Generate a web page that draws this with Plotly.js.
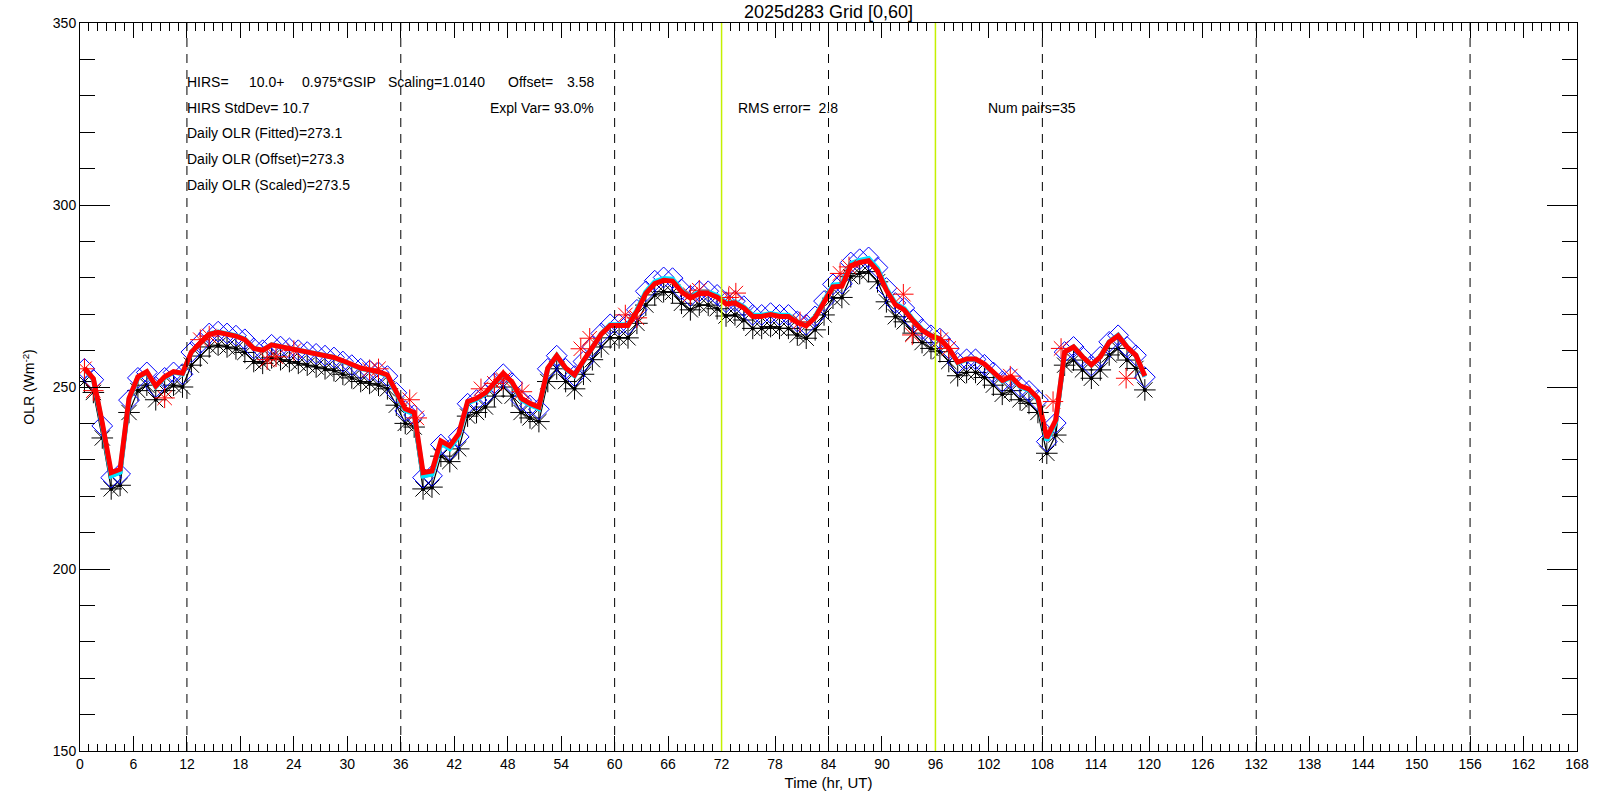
<!DOCTYPE html>
<html>
<head>
<meta charset="utf-8">
<script src="https://cdn.plot.ly/plotly-3.0.1.min.js"></script>
<style>
html,body{margin:0;padding:0;background:#fff;}
#chart{width:1600px;height:800px;}
</style>
</head>
<body>
<div id="chart"></div>
<script>
// Hour of each sample (UT hours from start)
const hours = [0.5,1.5,2.5,3.5,4.5,5.5,6.5,7.5,8.5,9.5,10.5,11.5,12.5,13.5,14.5,15.5,16.5,17.5,18.5,19.5,
20.5,21.5,22.5,23.5,24.5,25.5,26.5,27.5,28.5,29.5,30.5,31.5,32.5,33.5,34.5,35.5,36.5,37.5,38.5,39.5,
40.5,41.5,42.5,43.5,44.5,45.5,46.5,47.5,48.5,49.5,50.5,51.5,52.5,53.5,54.5,55.5,56.5,57.5,58.5,59.5,
60.5,61.5,62.5,63.5,64.5,65.5,66.5,67.5,68.5,69.5,70.5,71.5,72.5,73.5,74.5,75.5,76.5,77.5,78.5,79.5,
80.5,81.5,82.5,83.5,84.5,85.5,86.5,87.5,88.5,89.5,90.5,91.5,92.5,93.5,94.5,95.5,96.5,97.5,98.5,99.5,
100.5,101.5,102.5,103.5,104.5,105.5,106.5,107.5,108.5,109.5,110.5,111.5,112.5,113.5,114.5,115.5,116.5,117.5,118.5,119.5];

// GSIP OLR (black asterisks)
const gsip = [251.5,248.5,236,222,223,243,249,250.5,246.5,249,
250.5,250,256,258.5,261,261.5,261,260.5,259.5,257,
256.5,258,257.5,257,256.5,256,255.5,255,254.5,253.5,
252.5,251.5,251,250.5,249.5,245,240,239,222,222.5,
231,229.5,233,242,243,244.5,247.5,250,247.5,243,
241.5,240.5,251.5,255,251.5,249.5,253.5,257.5,261,263.5,
263.5,263.5,267.5,272.5,275.3,276.2,276,273,271.2,272.5,
272.5,271.5,269.5,269.8,268.4,266.1,266.1,266.6,266.1,266.1,
264.3,263.4,265.7,269.8,274.4,274.6,280.3,281.2,281.7,278.9,
273.4,269.3,267.9,264.8,262.2,260.6,259.7,257,253.1,254,
254,252.6,250.5,248,249,246.5,245.5,243,231.8,236.8,
256,257.4,254.7,252.4,254.7,258.8,260.6,257.4,255.1,249.2];

// Scaled OLR (blue diamonds)
const scaled = [255.0,252.0,239.3,225.1,226.1,246.4,252.5,254.0,250.0,252.5,
254.0,253.5,259.6,262.1,264.7,265.2,264.7,264.1,263.1,260.6,
260.1,261.6,261.1,260.6,260.1,259.6,259.1,258.6,258.1,257.0,
256.0,255.0,254.5,254.0,253.0,248.4,243.4,242.3,225.1,225.6,
234.2,232.7,236.3,245.4,246.4,247.9,251.0,253.5,251.0,246.4,
244.9,243.9,255.0,258.6,255.0,253.0,257.0,261.1,264.7,267.2,
267.2,267.2,271.2,276.3,279.2,280.1,279.9,276.8,275.0,276.3,
276.3,275.3,273.3,273.6,272.2,269.8,269.8,270.3,269.8,269.8,
268.0,267.1,269.4,273.6,278.2,278.4,284.2,285.1,285.6,282.8,
277.2,273.1,271.7,268.5,265.9,264.2,263.3,260.6,256.6,257.6,
257.6,256.1,254.0,251.5,252.5,250.0,248.9,246.4,235.0,240.1,
259.6,261.0,258.3,255.9,258.3,262.4,264.2,261.0,258.7,252.7];

// Offset OLR (cyan line)
const offsetOLR = [255.1,252.1,239.6,225.6,226.6,246.6,252.6,254.1,250.1,252.6,
254.1,253.6,259.6,262.1,264.6,265.1,264.6,264.1,263.1,260.6,
260.1,261.6,261.1,260.6,260.1,259.6,259.1,258.6,258.1,257.1,
256.1,255.1,254.6,254.1,253.1,248.6,243.6,242.6,225.6,226.1,
234.6,233.1,236.6,245.6,246.6,248.1,251.1,253.6,251.1,246.6,
245.1,244.1,255.1,258.6,255.1,253.1,257.1,261.1,264.6,267.1,
267.1,267.1,271.1,276.1,278.9,279.8,279.6,276.6,274.8,276.1,
276.1,275.1,273.1,273.4,272.0,269.7,269.7,270.2,269.7,269.7,
267.9,267.0,269.3,273.4,278.0,278.2,283.9,284.8,285.3,282.5,
277.0,272.9,271.5,268.4,265.8,264.2,263.3,260.6,256.7,257.6,
257.6,256.2,254.1,251.6,252.6,250.1,249.1,246.6,235.4,240.4,
259.6,261.0,258.3,256.0,258.3,262.4,264.2,261.0,258.7,252.8];

// Fitted OLR (thick red line)
const fitted = [255.2,252.3,240.1,226.5,227.4,246.9,252.8,254.2,250.3,252.8,
254.2,253.8,259.6,262.0,264.5,265.0,264.5,264.0,263.0,260.6,
260.1,261.6,261.1,260.6,260.1,259.6,259.1,258.6,258.1,257.2,
256.2,255.2,254.7,254.2,253.3,248.9,244.0,243.0,226.5,226.9,
235.2,233.8,237.2,246.0,246.9,248.4,251.3,253.8,251.3,246.9,
245.5,244.5,255.2,258.6,255.2,253.3,257.2,261.1,264.5,266.9,
266.9,266.9,270.8,275.7,278.4,279.3,279.1,276.2,274.4,275.7,
275.7,274.7,272.8,273.1,271.7,269.4,269.4,269.9,269.4,269.4,
267.7,266.8,269.1,273.1,277.5,277.7,283.3,284.2,284.7,281.9,
276.6,272.6,271.2,268.2,265.6,264.1,263.2,260.6,256.8,257.7,
257.7,256.3,254.2,251.8,252.8,250.3,249.4,246.9,236.0,240.9,
259.6,261.0,258.3,256.1,258.3,262.3,264.1,261.0,258.7,253.0];

// HIRS matched observations (red asterisks, 35 pairs)
const hirsHours = [0.5,1.5,9.5,13.5,14.5,21.0,22.0,24.0,32.5,33.5,37.0,37.8,45.0,46.5,47.5,49.6,56.2,57.2,61.2,62.5,
68.5,69.5,72.8,73.6,80.8,85.3,86.3,92.4,93.4,96.6,97.5,104.4,109.2,110.1,117.4];
const hirsOLR = [255,249,247,263,264,257.5,258.3,260,254.7,255,246.5,241.5,249.5,251,252,248.7,260.5,263.4,269.8,269,
275.3,276.6,274.6,275.8,267.9,281.2,283,275.5,264.3,263,260.6,253,246,260.6,252.4];

// Day / window markers
const dashedHours = [12,36,60,84,108,132,156];
const windowHours = [72,96];

const xTickVals = [0,6,12,18,24,30,36,42,48,54,60,66,72,78,84,90,96,102,108,114,120,126,132,138,144,150,156,162,168];
const yTickVals = [150,200,250,300,350];

const FONT = 'Liberation Sans, Arial, sans-serif';

const traces = [
  {x: hours, y: gsip, mode: 'lines+markers', type: 'scatter',
   line: {color: '#000000', width: 1.2},
   marker: {symbol: 'asterisk-open', size: 18, color: '#000000', line: {color: '#000000', width: 1}}},
  {x: hours, y: gsip, mode: 'markers', type: 'scatter',
   marker: {symbol: 'circle', size: 4, color: '#000000'}},
  {x: hours, y: scaled, mode: 'lines+markers', type: 'scatter',
   line: {color: '#0000ff', width: 1},
   marker: {symbol: 'diamond-open', size: 16, color: '#0000ff', line: {color: '#0000ff', width: 1}}},
  {x: hours, y: offsetOLR, mode: 'lines', type: 'scatter',
   line: {color: '#00e5ff', width: 5}},
  {x: hours, y: fitted, mode: 'lines', type: 'scatter',
   line: {color: '#ff0000', width: 5}},
  {x: hirsHours, y: hirsOLR, mode: 'markers', type: 'scatter',
   marker: {symbol: 'asterisk-open', size: 17, color: '#ff0000', line: {color: '#ff0000', width: 1}}}
];

const shapes = [];
dashedHours.forEach(h => shapes.push({type: 'line', xref: 'x', yref: 'paper', x0: h, x1: h, y0: 0, y1: 1,
  line: {color: '#000000', width: 1, dash: '9px,7px'}, layer: 'above'}));
windowHours.forEach(h => shapes.push({type: 'line', xref: 'x', yref: 'paper', x0: h, x1: h, y0: 0, y1: 1,
  line: {color: '#c4f000', width: 1.5}, layer: 'above'}));

function txt(x, y, text, anchor) {
  return {x: x, y: y, xref: 'x', yref: 'y', text: text, showarrow: false,
    xanchor: anchor || 'left', yanchor: 'middle', font: {family: FONT, size: 14, color: '#000'}};
}
const NB = '\u00a0';
const annotations = [
  txt(11.8, 333.8, 'HIRS='),
  txt(18.74, 333.8, '10.0+'),
  txt(24.69, 333.8, '0.975*GSIP'),
  txt(34.34, 333.8, 'Scaling=1.0140'),
  txt(47.81, 333.8, 'Offset='),
  txt(57.91, 333.8, '3.58', 'right'),
  txt(11.8, 326.6, 'HIRS StdDev= 10.7'),
  txt(57.91, 326.6, 'Expl Var= 93.0%', 'right'),
  txt(73.62, 326.6, 'RMS error=' + NB + NB + '2.8'),
  txt(101.67, 326.6, 'Num pairs=35'),
  txt(11.8, 319.8, 'Daily OLR (Fitted)=273.1'),
  txt(11.8, 312.6, 'Daily OLR (Offset)=273.3'),
  txt(11.8, 305.5, 'Daily OLR (Scaled)=273.5')
];

const layout = {
  width: 1600, height: 800,
  paper_bgcolor: '#ffffff', plot_bgcolor: '#ffffff',
  margin: {l: 80, r: 23, t: 23, b: 49},
  showlegend: false,
  font: {family: FONT, size: 14, color: '#000000'},
  title: {text: '2025d283 Grid [0,60]', font: {family: FONT, size: 18, color: '#000'},
    x: 0.5, xref: 'paper', xanchor: 'center', y: 0.986, yref: 'container', yanchor: 'middle'},
  xaxis: {
    range: [0, 168], autorange: false,
    tickmode: 'array', tickvals: xTickVals, ticktext: xTickVals.map(String),
    ticks: 'inside', ticklen: 15, tickwidth: 1, tickcolor: '#000',
    minor: {dtick: 1, tick0: 0, ticks: 'inside', ticklen: 7.5, tickwidth: 1, tickcolor: '#000'},
    showline: true, linecolor: '#000', linewidth: 1, mirror: 'ticks',
    showgrid: false, zeroline: false,
    tickfont: {family: FONT, size: 14, color: '#000'},
    title: {text: 'Time (hr, UT)', font: {family: FONT, size: 15, color: '#000'}, standoff: 6}
  },
  yaxis: {
    range: [150, 350], autorange: false,
    tickmode: 'array', tickvals: yTickVals, ticktext: yTickVals.map(String),
    ticks: 'inside', ticklen: 30, tickwidth: 1, tickcolor: '#000',
    minor: {dtick: 10, tick0: 150, ticks: 'inside', ticklen: 15, tickwidth: 1, tickcolor: '#000'},
    showline: true, linecolor: '#000', linewidth: 1, mirror: 'ticks',
    showgrid: false, zeroline: false,
    tickfont: {family: FONT, size: 14, color: '#000'},
    title: {text: 'OLR (Wm<sup>-2</sup>)', font: {family: FONT, size: 14, color: '#000'}, standoff: 14}
  },
  shapes: shapes,
  annotations: annotations,
  hovermode: false
};

Plotly.newPlot('chart', traces, layout, {staticPlot: true, displayModeBar: false});
</script>
</body>
</html>
